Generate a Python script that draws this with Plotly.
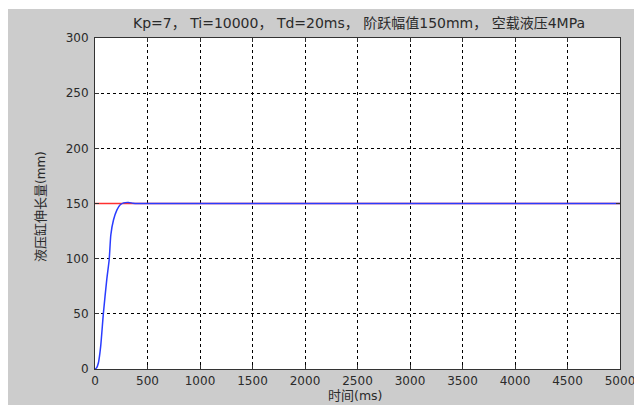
import plotly.graph_objects as go

# Step response of the hydraulic cylinder extension
time_ms = [0, 15, 32, 54, 80, 112, 135, 151, 176, 208, 240, 272, 320, 362, 400, 1000, 5000]
extension_mm = [0, 1.0, 5.4, 20.5, 50.7, 81, 99, 121.7, 135, 144, 148.8, 150.6, 151, 150.3, 150, 150, 150]

# Step setpoint
setpoint_t = [0, 5000]
setpoint_v = [150, 150]

x_ticks = [0, 500, 1000, 1500, 2000, 2500, 3000, 3500, 4000, 4500, 5000]
y_ticks = [0, 50, 100, 150, 200, 250, 300]

W, H = 634, 405
L, R, T, B = 95, 14, 38, 36
pw, ph = W - L - R, H - T - B

FONT = "DejaVu Sans, Noto Sans CJK SC, sans-serif"
TXT = "#2a2a2a"
BG = "#cccccc"

fig = go.Figure()
fig.add_trace(go.Scatter(x=setpoint_t, y=setpoint_v, mode="lines",
                         line=dict(color="#ff3030", width=1.3), showlegend=False))
fig.add_trace(go.Scatter(x=time_ms, y=extension_mm, mode="lines",
                         line=dict(color="#2a3cff", width=1.5, shape="spline", smoothing=0.6),
                         showlegend=False))

axis_common = dict(
    showline=True, linecolor="#333333", linewidth=1, mirror="allticks",
    ticks="inside", ticklen=4, tickcolor="#333333",
    showgrid=True, gridcolor="#000000", gridwidth=1, griddash="dot",
    zeroline=False, automargin=False, ticklabeloverflow="allow",
    tickfont=dict(family=FONT, size=12, color=TXT),
)

fig.update_xaxes(range=[0, 5000], tickvals=x_ticks, ticklabelstandoff=1, **axis_common)
fig.update_yaxes(range=[0, 300], tickvals=y_ticks, ticklabelstandoff=3, **axis_common)

def px_x(p):
    return (p - L) / pw

def px_y(p):
    return 1 - (p - T) / ph

shapes = [
    # white strips framing the grey figure panel
    dict(type="rect", xref="paper", yref="paper", x0=-1, x1=2, y0=px_y(9), y1=2,
         fillcolor="white", line=dict(width=0), layer="above"),
    dict(type="rect", xref="paper", yref="paper", x0=-1, x1=px_x(8), y0=-1, y1=2,
         fillcolor="white", line=dict(width=0), layer="above"),
]

annotations = [
    dict(text="Kp=7， Ti=10000， Td=20ms， 阶跃幅值150mm， 空载液压4MPa",
         xref="paper", yref="paper", x=px_x(359), y=px_y(23), showarrow=False,
         font=dict(family=FONT, size=14, color=TXT), xanchor="center", yanchor="middle"),
    dict(text="时间<span style='font-size:12.5px'>(ms)</span>",
         xref="paper", yref="paper", x=px_x(355), y=px_y(395), showarrow=False,
         font=dict(family=FONT, size=13, color=TXT), xanchor="center", yanchor="middle"),
    dict(text="液压缸伸长量<span style='font-size:12px'>(mm)</span>",
         xref="paper", yref="paper", x=px_x(40), y=px_y(207), showarrow=False, textangle=-90,
         font=dict(family=FONT, size=13, color=TXT), xanchor="center", yanchor="middle"),
]

fig.update_layout(
    width=W, height=H,
    margin=dict(l=L, r=R, t=T, b=B, autoexpand=False),
    paper_bgcolor=BG, plot_bgcolor="white",
    shapes=shapes, annotations=annotations,
    showlegend=False,
)

fig.write_html("out.html")
